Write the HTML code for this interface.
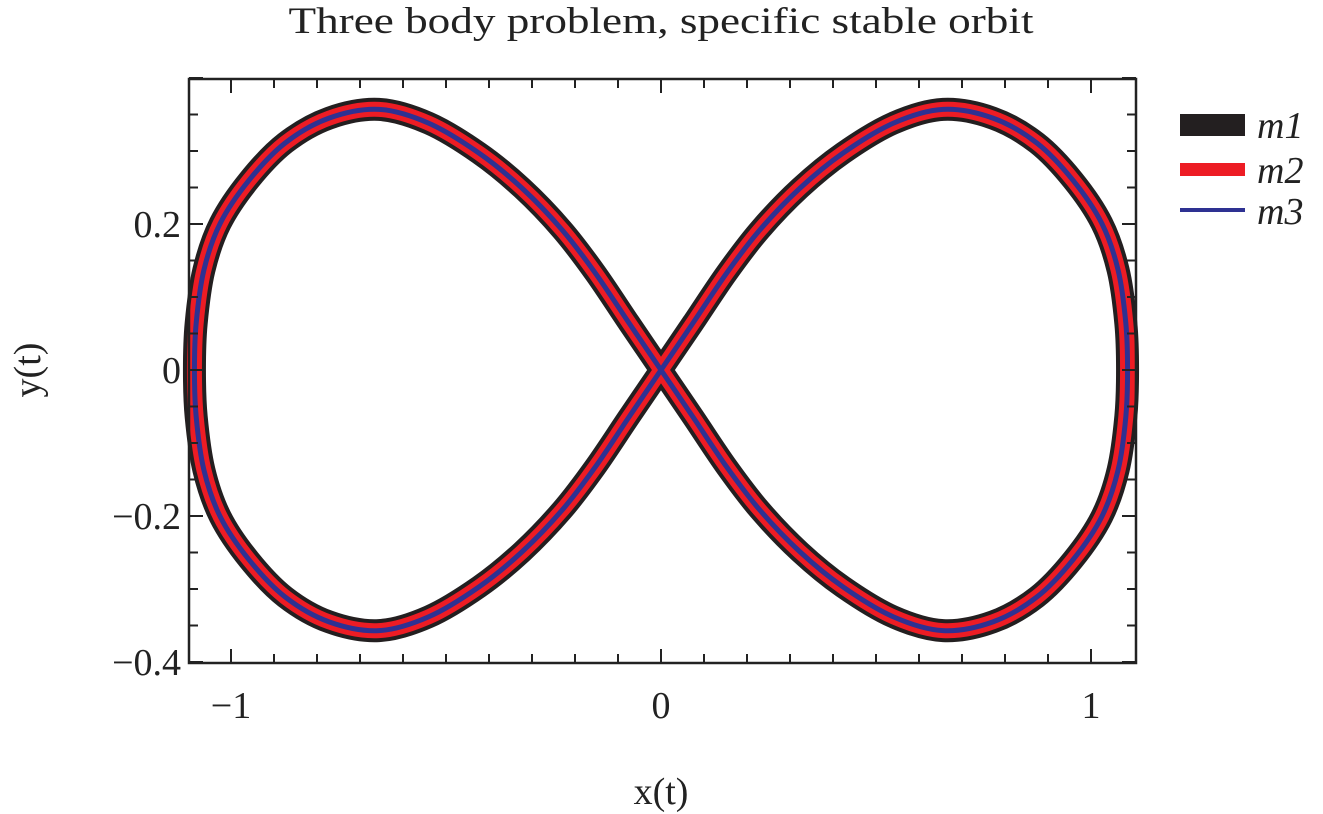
<!DOCTYPE html>
<html><head><meta charset="utf-8"><style>
html,body{margin:0;padding:0;background:#fff}
svg{display:block;font-family:"Liberation Serif",serif}
</style></head><body>
<svg id="chart" width="1323" height="814" viewBox="0 0 1323 814">
<text x="661" y="33" font-size="37" text-anchor="middle" textLength="745" lengthAdjust="spacingAndGlyphs" fill="#222">Three body problem, specific stable orbit</text>
<g id="plot"></g>
<g id="axes"></g>
<text x="661" y="804" font-size="38" text-anchor="middle" fill="#222">x(t)</text>
<text transform="translate(40,370) rotate(-90)" font-size="38" text-anchor="middle" fill="#222">y(t)</text>
<g>
<rect x="1180" y="114" width="65" height="22" fill="#231f20"/>
<text x="1257" y="138" font-size="38" font-style="italic" fill="#222">m1</text>
<rect x="1180" y="163" width="65" height="13" fill="#ed1c24"/>
<text x="1257" y="183" font-size="38" font-style="italic" fill="#222">m2</text>
<rect x="1180" y="208" width="65" height="4" fill="#2e3192"/>
<text x="1257" y="224" font-size="38" font-style="italic" fill="#222">m3</text>
</g>
</svg>
<script>
// quarter-orbit samples (upper right lobe)
const quarterX = [0, 0.074, 0.153, 0.230, 0.323, 0.423, 0.540, 0.656, 0.772, 0.874, 0.958, 1.025, 1.063, 1.081, 1.085];
const quarterY = [0, 0.064, 0.133, 0.192, 0.249, 0.297, 0.338, 0.357, 0.345, 0.311, 0.260, 0.201, 0.137, 0.064, 0];
const xTicks = [-1, 0, 1];
const yTicks = [-0.4, -0.2, 0, 0.2];
const yTickLabels = ["\u22120.4", "\u22120.2", "0", "0.2"];
const xTickLabels = ["\u22121", "0", "1"];
const seriesNames = ["m1", "m2", "m3"];
const seriesColors = ["#231f20", "#ed1c24", "#2e3192"];
const seriesWidths = [23, 15, 5];

const L=189,R=1136,T=79,B=663;
const sx=v=>661+v*430;
const sy=v=>370-v*730;
const NS="http://www.w3.org/2000/svg";
function mk(tag,attrs,parent){const e=document.createElementNS(NS,tag);for(const k in attrs)e.setAttribute(k,attrs[k]);parent.appendChild(e);return e;}

const pts=[];
const n=quarterX.length;
for(let i=0;i<n;i++)pts.push([quarterX[i],quarterY[i]]);
for(let i=n-2;i>=0;i--)pts.push([quarterX[i],-quarterY[i]]);
for(let i=1;i<n;i++)pts.push([-quarterX[i],quarterY[i]]);
for(let i=n-2;i>=1;i--)pts.push([-quarterX[i],-quarterY[i]]);
const P=pts.map(p=>[sx(p[0]),sy(p[1])]);
let d="M"+P[0][0]+","+P[0][1];
const m=P.length;
for(let i=0;i<m;i++){
  const p0=P[(i-1+m)%m],p1=P[i],p2=P[(i+1)%m],p3=P[(i+2)%m];
  const c1=[p1[0]+(p2[0]-p0[0])/6,p1[1]+(p2[1]-p0[1])/6];
  const c2=[p2[0]-(p3[0]-p1[0])/6,p2[1]-(p3[1]-p1[1])/6];
  d+=" C"+c1[0]+","+c1[1]+" "+c2[0]+","+c2[1]+" "+p2[0]+","+p2[1];
}
const plot=document.getElementById('plot');
seriesNames.forEach((nm,i)=>{
  const path=mk('path',{d:d+"Z",fill:"none",stroke:seriesColors[i],"stroke-width":seriesWidths[i],"stroke-linejoin":"round"},plot);
  
  
});

const ax=document.getElementById('axes');
const frame=mk('rect',{x:L,y:T,width:R-L,height:B-T,fill:"none",stroke:"#222","stroke-width":2.5},ax);


for(let k=-10;k<=10;k++){
  const v=k/10;const x=sx(v);const major=(k%10===0);const len=major?14:9;
  const t1=mk('line',{x1:x,y1:B,x2:x,y2:B-len,stroke:"#222","stroke-width":2},ax);
  
  
  const t2=mk('line',{x1:x,y1:T,x2:x,y2:T+len,stroke:"#222","stroke-width":2},ax);
  
  
}
for(let k=-8;k<=8;k++){
  const v=k*0.05;const y=sy(v);const major=(k%4===0);const len=major?14:9;
  const t1=mk('line',{x1:L,y1:y,x2:L+len,y2:y,stroke:"#222","stroke-width":2},ax);
  
  
  const t2=mk('line',{x1:R,y1:y,x2:R-len,y2:y,stroke:"#222","stroke-width":2},ax);
  
  
}
xTicks.forEach((v,i)=>{
  const t=mk('text',{x:sx(v),y:718,"font-size":38,"text-anchor":"middle",fill:"#222"},ax);
  t.textContent=xTickLabels[i];
  
  
});
yTicks.forEach((v,i)=>{
  const t=mk('text',{x:181,y:sy(v)+13,"font-size":38,"text-anchor":"end",fill:"#222"},ax);
  t.textContent=yTickLabels[i];
  
  
});
</script>
</body></html>
